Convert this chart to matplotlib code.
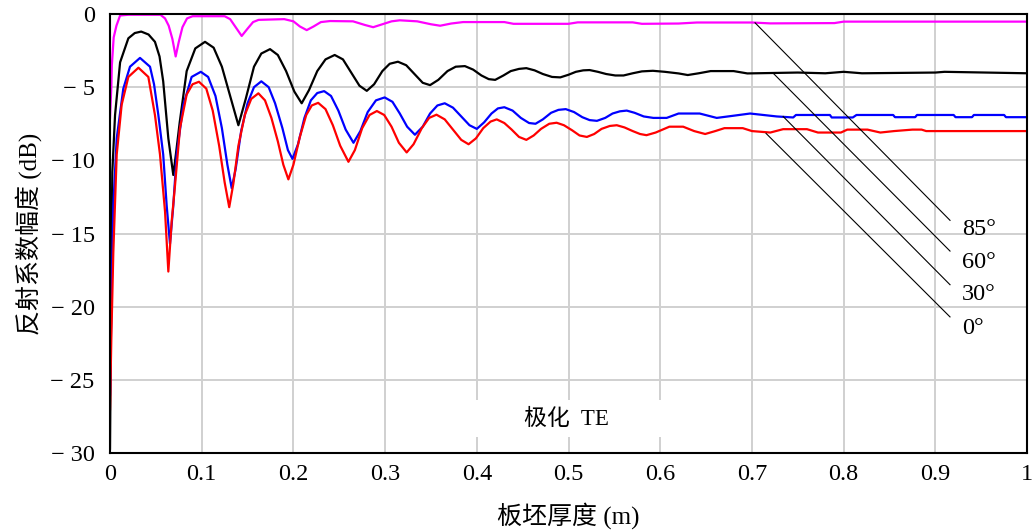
import matplotlib
matplotlib.use('Agg')
import matplotlib.pyplot as plt
from matplotlib.patches import Rectangle

plt.rcParams['font.family'] = ['Liberation Serif', 'Noto Sans CJK SC']

# 85 deg (magenta)
x85 = [0, 0.0015, 0.002, 0.004, 0.007, 0.011, 0.02, 0.055, 0.06, 0.064, 0.068, 0.0716, 0.075, 0.079,
       0.084, 0.09, 0.125, 0.131, 0.137, 0.1436, 0.15, 0.156, 0.162, 0.19, 0.2, 0.207, 0.2145, 0.222,
       0.23, 0.24, 0.265, 0.278, 0.287, 0.297, 0.307, 0.316, 0.335, 0.35, 0.36, 0.372, 0.385, 0.43,
       0.44, 0.5, 0.51, 0.57, 0.58, 0.62, 0.64, 0.7, 0.72, 0.79, 0.8, 1.0]
y85 = [-7.1, -4.9, -3.5, -1.6, -0.8, -0.1, -0.05, -0.05, -0.3, -0.8, -1.7, -2.9, -1.9, -0.9,
       -0.3, -0.15, -0.15, -0.35, -0.9, -1.5, -1.0, -0.55, -0.4, -0.35, -0.5, -0.85, -1.1, -0.85,
       -0.55, -0.48, -0.5, -0.75, -0.9, -0.7, -0.5, -0.43, -0.5, -0.7, -0.8, -0.65, -0.55, -0.55,
       -0.67, -0.67, -0.57, -0.57, -0.67, -0.65, -0.58, -0.58, -0.64, -0.62, -0.52, -0.52]

# 60 deg (black)
x60 = [0, 0.0015, 0.0025, 0.0055, 0.011, 0.02, 0.027, 0.034, 0.042, 0.049, 0.054, 0.058, 0.0636,
       0.069, 0.072, 0.076, 0.0836, 0.093, 0.1036, 0.113, 0.122, 0.131, 0.14, 0.148, 0.157, 0.165,
       0.1745, 0.183, 0.192, 0.201, 0.209, 0.217, 0.226, 0.235, 0.245, 0.254, 0.263, 0.272, 0.28,
       0.288, 0.297, 0.305, 0.314, 0.323, 0.332, 0.341, 0.349, 0.358, 0.368, 0.377, 0.387, 0.396,
       0.405, 0.413, 0.42, 0.429, 0.437, 0.446, 0.454, 0.463, 0.472, 0.482, 0.491, 0.5, 0.508,
       0.516, 0.523, 0.532, 0.541, 0.551, 0.56, 0.57, 0.58, 0.592, 0.605, 0.62, 0.63, 0.642, 0.655,
       0.68, 0.695, 0.75, 0.78, 0.8, 0.82, 0.9, 0.91, 1.0]
y60 = [-29.7, -17, -10.8, -6.9, -3.3, -1.66, -1.3, -1.2, -1.4, -1.9, -2.9, -4.6, -8.5,
       -11.0, -9.5, -7.4, -3.9, -2.35, -1.9, -2.3, -3.6, -5.6, -7.6, -5.8, -3.6, -2.7,
       -2.4, -2.8, -3.9, -5.3, -6.1, -5.2, -3.9, -3.1, -2.8, -3.1, -4.0, -4.9, -5.25,
       -4.8, -3.9, -3.4, -3.26, -3.5, -4.1, -4.7, -4.86, -4.5, -3.9, -3.6, -3.56, -3.8,
       -4.2, -4.45, -4.5, -4.2, -3.9, -3.75, -3.7, -3.85, -4.1, -4.3, -4.33, -4.15, -3.95,
       -3.85, -3.83, -3.95, -4.1, -4.2, -4.2, -4.05, -3.92, -3.88, -3.95, -4.06, -4.17, -4.05, -3.9,
       -3.9, -4.06, -4.0, -4.05, -3.95, -4.05, -4.0, -3.95, -4.05]

# 30 deg (blue)
x30 = [0, 0.0015, 0.0036, 0.0073, 0.0145, 0.0218, 0.0327, 0.0436, 0.048, 0.0527, 0.058, 0.0618,
       0.0654, 0.069, 0.0727, 0.08, 0.089, 0.099, 0.107, 0.115, 0.122, 0.128, 0.1327, 0.137, 0.143,
       0.15, 0.157, 0.165, 0.173, 0.18, 0.188, 0.194, 0.199, 0.205, 0.212, 0.219, 0.226, 0.2335,
       0.241, 0.249, 0.257, 0.2655, 0.273, 0.281, 0.29, 0.2995, 0.308, 0.316, 0.324, 0.3325, 0.341,
       0.349, 0.357, 0.365, 0.374, 0.383, 0.392, 0.4, 0.408, 0.416, 0.423, 0.43, 0.439, 0.448,
       0.457, 0.464, 0.472, 0.481, 0.489, 0.497, 0.506, 0.515, 0.523, 0.531, 0.54, 0.548, 0.556,
       0.5635, 0.572, 0.582, 0.5925, 0.607, 0.62, 0.643, 0.6616, 0.68, 0.698, 0.727, 0.745, 0.748,
       0.785, 0.787, 0.81, 0.814, 0.854, 0.856, 0.878, 0.88, 0.92, 0.922, 0.94, 0.942, 0.975,
       0.977, 1.0]
y30 = [-26, -20, -13.1, -8.5, -5.1, -3.6, -3.0, -3.6, -4.8, -6.9, -9.6, -13.1,
       -15.7, -13.1, -9.6, -6.2, -4.3, -3.95, -4.3, -5.6, -7.8, -10.3, -11.9, -10.6, -8.0,
       -6.1, -5.0, -4.6, -5.0, -6.1, -7.8, -9.3, -9.9, -8.9, -7.1, -5.9, -5.4, -5.27,
       -5.6, -6.6, -7.9, -8.8, -8.0, -6.7, -5.9, -5.7, -6.0, -6.8, -7.7, -8.25, -7.7,
       -6.8, -6.25, -6.1, -6.4, -7.0, -7.6, -7.85, -7.4, -6.8, -6.45, -6.37, -6.6, -7.1,
       -7.45, -7.5, -7.2, -6.75, -6.55, -6.5, -6.7, -7.05, -7.25, -7.3, -7.1, -6.8, -6.65,
       -6.6, -6.75, -7.0, -7.1, -7.1, -6.8, -6.8, -7.1, -6.95, -6.8, -7.0, -7.07, -6.9,
       -6.9, -7.07, -7.07, -6.9, -6.9, -7.05, -7.05, -6.9, -6.9, -7.05, -7.05, -6.9, -6.9,
       -7.05, -7.05]

# 0 deg (red)
x0 = [0, 0.0015, 0.0036, 0.0073, 0.0127, 0.02, 0.031, 0.0418, 0.049, 0.0545, 0.06, 0.0636, 0.0672,
      0.0709, 0.0763, 0.0836, 0.09, 0.097, 0.105, 0.112, 0.119, 0.125, 0.13, 0.1345, 0.14, 0.147,
      0.154, 0.1618, 0.169, 0.176, 0.183, 0.189, 0.1945, 0.2, 0.207, 0.214, 0.22, 0.227, 0.235,
      0.243, 0.251, 0.26, 0.267, 0.275, 0.283, 0.291, 0.299, 0.307, 0.315, 0.3235, 0.331, 0.34,
      0.348, 0.356, 0.365, 0.374, 0.383, 0.391, 0.399, 0.407, 0.415, 0.4217, 0.43, 0.438, 0.446,
      0.454, 0.462, 0.47, 0.479, 0.487, 0.495, 0.504, 0.512, 0.52, 0.528, 0.536, 0.545, 0.5526,
      0.561, 0.57, 0.578, 0.585, 0.595, 0.61, 0.625, 0.637, 0.649, 0.66, 0.67, 0.69, 0.7, 0.72,
      0.734, 0.76, 0.772, 0.797, 0.804, 0.826, 0.84, 0.855, 0.875, 0.885, 0.89, 1.0]
y0 = [-27, -22, -16.3, -9.6, -6.2, -4.3, -3.67, -4.3, -6.9, -9.6, -13.5, -17.6, -14.2,
      -11.7, -7.8, -5.5, -4.8, -4.63, -5.1, -6.6, -9.0, -11.5, -13.2, -11.6, -9.0, -6.9,
      -5.8, -5.42, -5.9, -7.1, -8.7, -10.3, -11.3, -10.3, -8.4, -6.9, -6.25, -6.07, -6.5,
      -7.6, -9.0, -10.1, -9.3, -7.8, -6.9, -6.63, -6.9, -7.7, -8.8, -9.46, -8.9, -7.8,
      -7.1, -6.88, -7.2, -7.9, -8.6, -8.9, -8.5, -7.8, -7.35, -7.2, -7.45, -7.9, -8.4,
      -8.6, -8.3, -7.85, -7.5, -7.43, -7.6, -7.95, -8.3, -8.4, -8.2, -7.85, -7.65, -7.6,
      -7.75, -8.0, -8.2, -8.28, -8.1, -7.7, -7.7, -8.0, -8.2, -8.0, -7.8, -7.8, -8.0, -8.1,
      -7.87, -7.87, -8.1, -8.1, -7.9, -7.9, -8.1, -8.0, -7.9, -7.9, -8.0, -8.0]

# leader lines: start on curve, end near label
labels = ['85°', '60°', '30°', '0°']
lead_x0 = [0.7034, 0.7234, 0.734, 0.7154]
lead_y0 = [-0.6, -4.06, -7.0, -8.16]
lead_x1 = [0.916, 0.916, 0.916, 0.916]
lead_y1 = [-14.1, -16.2, -18.5, -20.7]
label_y = [-14.7, -17.0, -19.2, -21.5]

xticks = [0, 0.1, 0.2, 0.3, 0.4, 0.5, 0.6, 0.7, 0.8, 0.9, 1]
xticklabels = ['0', '0.1', '0.2', '0.3', '0.4', '0.5', '0.6', '0.7', '0.8', '0.9', '1']
yticks = [-30, -25, -20, -15, -10, -5, 0]
yticklabels = ['− 30', '− 25', '− 20', '− 15', '− 10', '− 5', '0']

fig = plt.figure(figsize=(10.32, 5.31), dpi=100)
ax = fig.add_axes([0.1066, 0.1469, 0.8886, 0.8267])

ax.plot(x85, y85, color='#ff00ff', lw=1.6, zorder=3)
ax.plot(x60, y60, color='black', lw=1.6, zorder=3)
ax.plot(x30, y30, color='#0000ff', lw=1.6, zorder=3)
ax.plot(x0, y0, color='#ff0000', lw=1.6, zorder=3)

for i in range(len(labels)):
    ax.plot([lead_x0[i], lead_x1[i]], [lead_y0[i], lead_y1[i]], color='black', lw=0.8, zorder=4)
    ax.text(0.929, label_y[i], labels[i], fontsize=17.5, va='center', ha='left', zorder=5)

# white box behind the polarisation note
ax.add_patch(Rectangle((0.36, -28.9), 0.28, 2.5, facecolor='white', edgecolor='none', zorder=2))
ax.text(0.498, -27.7, '极化  TE', fontsize=16.5, ha='center', va='center', zorder=5)

ax.set_xlim(0, 1)
ax.set_ylim(-30, 0)
ax.set_xticks(xticks)
ax.set_xticklabels(xticklabels)
ax.set_yticks(yticks)
ax.set_yticklabels(yticklabels)
ax.tick_params(axis='both', length=0, labelsize=17.5)
ax.tick_params(axis='x', pad=8)
ax.tick_params(axis='y', pad=11)
ax.grid(True, color='#d0d0d0', lw=1.4, zorder=1)
ax.set_axisbelow(True)
for s in ax.spines.values():
    s.set_linewidth(1.5)
    s.set_color('black')
    s.set_zorder(6)

ax.set_xlabel('板坯厚度 (m)', fontsize=18, labelpad=12)
ax.set_ylabel('反射系数幅度 (dB)', fontsize=18, labelpad=6)

fig.savefig('out.png', dpi=100)
